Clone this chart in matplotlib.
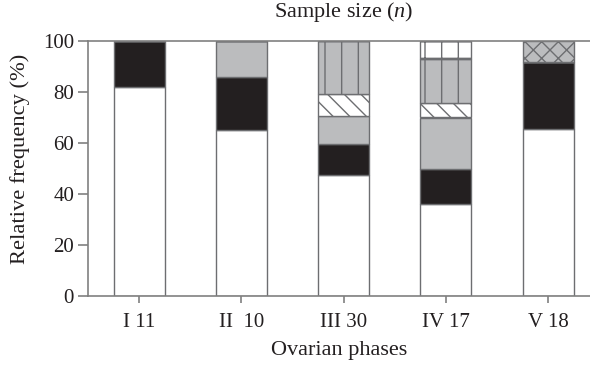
import matplotlib
matplotlib.use("Agg")
import matplotlib.pyplot as plt
import numpy as np

plt.rcParams['font.family'] = ['Liberation Serif', 'DejaVu Serif']
plt.rcParams['mathtext.fontset'] = 'custom'
plt.rcParams['mathtext.rm'] = 'Liberation Serif'
plt.rcParams['mathtext.it'] = 'Liberation Serif:italic'
plt.rcParams['hatch.linewidth'] = 1.0

phases = ["I 11", "II  10", "III 30", "IV 17", "V 18"]
# segment values (%), bottom to top, per category
seg_white = [82, 65, 47.4, 36, 65.5]
seg_black = [18, 21, 12.2, 14, 26.1]
seg_grey = [0, 14, 11.1, 20, 0]
seg_diag = [0, 0, 8.4, 5.6, 0]
seg_vert = [0, 0, 20.9, 17.2, 0]
seg_grid = [0, 0, 0, 7.2, 0]
seg_cross = [0, 0, 0, 0, 8.4]

segments = [
    (seg_white, '#ffffff', None),
    (seg_black, '#231f20', None),
    (seg_grey, '#bbbcbe', None),
    (seg_diag, '#ffffff', '\\\\'),
    (seg_vert, '#bbbcbe', '|'),
    (seg_grid, '#ffffff', '+'),
    (seg_cross, '#bbbcbe', 'xx'),
]

fig = plt.figure(figsize=(5.9, 3.65), dpi=100)
ax = fig.add_axes([88/590, 1-296/365, (590-88)/590, (296-41)/365])

x = np.arange(len(phases))
edge = '#6d6e71'
bottom = np.zeros(len(phases))
for vals, color, hatch in segments:
    v = np.array(vals, dtype=float)
    ax.bar(x, v, width=0.5, bottom=bottom, color=color, edgecolor=edge,
           linewidth=1.0, hatch=hatch)
    bottom += v

ax.set_xlim(-0.5, 4.41)
ax.set_ylim(0, 100)
ax.set_yticks([0, 20, 40, 60, 80, 100])
ax.set_xticks(x)
ax.set_xticklabels(phases)
for s in ['left', 'bottom', 'top']:
    ax.spines[s].set_color('#808080')
    ax.spines[s].set_linewidth(1.2)
ax.spines['right'].set_visible(False)
ax.tick_params(axis='both', colors='#808080', labelcolor='#231f20',
               labelsize=15, width=1.2)
ax.tick_params(axis='y', pad=3, length=7)
ax.tick_params(axis='x', pad=7, length=5)
ax.set_ylabel("Relative frequency (%)", fontsize=16.2, color='#231f20')
ax.yaxis.set_label_coords(-58/502, (296-159)/255)
ax.set_xlabel("Ovarian phases", fontsize=16, color='#231f20', labelpad=7)
fig.text(344/590, 1-12/365, "Sample size ($\\mathit{n}$)", ha='center', va='center',
         fontsize=16, color='#231f20')

fig.savefig("out.png", dpi=100)
